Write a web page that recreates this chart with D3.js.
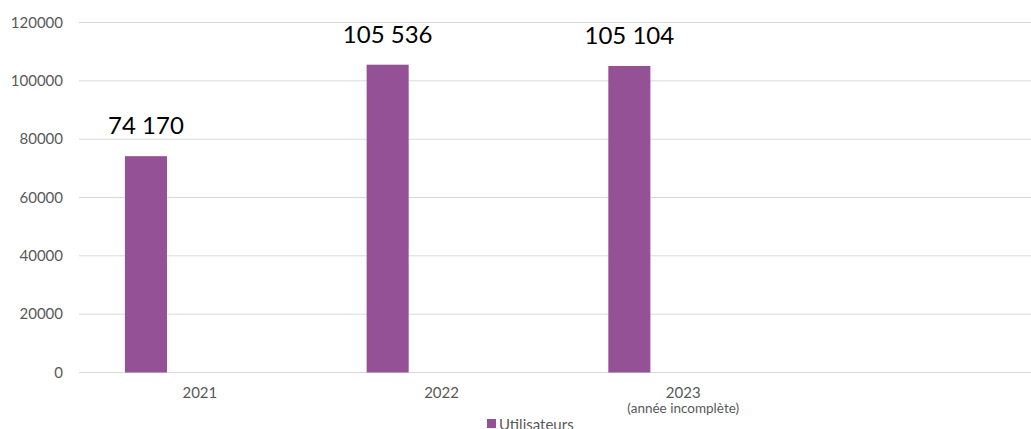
<!DOCTYPE html>
<html><head><meta charset="utf-8">
<script src="https://cdn.jsdelivr.net/npm/d3@7"></script>
<style>body{margin:0;background:#fff}svg{display:block}</style>
</head><body><svg id="c" width="1031" height="429"></svg>
<script>
const categories = ["2021", "2022", "2023", ""];
const categorySubLabels = ["", "", "(année incomplète)", ""];
const seriesName = "Utilisateurs";
const values = [74170, 105536, 105104, null];
const valueLabels = ["74 170", "105 536", "105 104", ""];
const yTicks = [0, 20000, 40000, 60000, 80000, 100000, 120000];

(function () {
const svg = d3.select("#c");
const W = 1031;
const plotLeft = 79, plotTop = 22.5, plotBottom = 372.5;
const x = d3.scaleBand().domain(categories).range([plotLeft, plotLeft + 4 * 241.7]);
const y = d3.scaleLinear().domain([0, 120000]).range([plotBottom, plotTop]);
const font = "Lato, 'Carlito', sans-serif";

// gridlines
svg.append("g").selectAll("line").data(yTicks).join("line")
  .attr("x1", plotLeft).attr("x2", W)
  .attr("y1", d => y(d)).attr("y2", d => y(d))
  .attr("stroke", "#d9d9d9").attr("stroke-width", 1);

// y axis labels
const yAxis = d3.axisLeft(y).tickValues(yTicks).tickSize(0).tickPadding(0).tickFormat(d3.format("d"));
const gy = svg.append("g").attr("transform", `translate(63,0)`).call(yAxis);
gy.select(".domain").remove();
gy.selectAll("text").attr("fill", "#595959").style("font-family", font).style("font-size", "15px");

// bars
const bw = x.bandwidth();
const barOff = bw * 0.19, barW = bw * 0.174;
const data = categories.map((c, i) => ({c, v: values[i], l: valueLabels[i]})).filter(d => d.v != null);
svg.append("g").selectAll("rect").data(data).join("rect")
  .attr("x", d => x(d.c) + barOff).attr("width", barW)
  .attr("y", d => y(d.v)).attr("height", d => y(0) - y(d.v))
  .attr("fill", "#955196");

// value labels
svg.append("g").selectAll("text").data(data).join("text")
  .attr("x", d => x(d.c) + barOff + barW / 2)
  .attr("y", d => y(d.v) - 22)
  .attr("text-anchor", "middle").attr("fill", "#000")
  .style("font-family", font).style("font-size", "24px")
  .text(d => d.l);

// category labels
const xAxis = d3.axisBottom(x).tickSize(0).tickPadding(0);
const gx = svg.append("g").attr("transform", `translate(0,${plotBottom})`).call(xAxis);
gx.select(".domain").remove();
gx.selectAll("text").attr("dy", null).attr("y", 25).attr("fill", "#595959")
  .style("font-family", font).style("font-size", "15px");
svg.append("g").selectAll("text").data(categories.map((c, i) => ({c, s: categorySubLabels[i]})).filter(d => d.s))
  .join("text")
  .attr("x", d => x(d.c) + bw / 2).attr("y", plotBottom + 40.5)
  .attr("text-anchor", "middle").attr("fill", "#595959")
  .style("font-family", font).style("font-size", "13.5px")
  .text(d => d.s);

// legend
const lg = svg.append("g");
lg.append("rect").attr("x", 487).attr("y", 419).attr("width", 9).attr("height", 9).attr("fill", "#955196");
lg.append("text").attr("x", 499).attr("y", 430).attr("fill", "#595959")
  .style("font-family", font).style("font-size", "15px").text(seriesName);
})();
</script></body></html>
